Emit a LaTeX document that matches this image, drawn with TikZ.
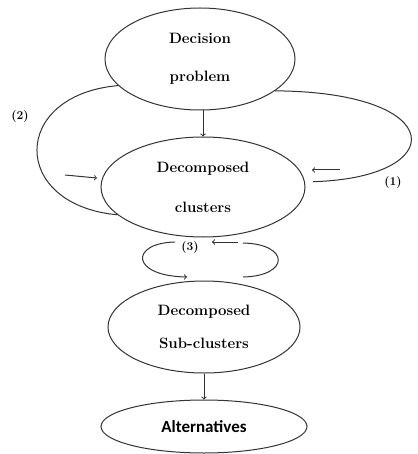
\documentclass[tikz,border=0pt]{standalone}
\usepackage{fontspec}
\newfontfamily\altfont{Carlito}
\usetikzlibrary{shapes.geometric}
\begin{document}
\begin{tikzpicture}[x=1pt,y=-1pt,
  line width=1pt,
  ink/.style={draw=black!80},
  stage/.style={ellipse,ink,inner sep=0pt,align=center,text=black,
    font=\normalfont\bfseries\fontsize{15}{18}\selectfont},
  tag/.style={text=black,font=\normalfont\bfseries\fontsize{12}{14}\selectfont},
  flow/.style={ink,->,>=to}]
\useasboundingbox (0,0) rectangle (417,454);

% stages of the decomposition
\node[stage,minimum width=190pt,minimum height=102pt] (e1) at (200,59)
  {Decision\\[20pt]problem};
\node[stage,minimum width=204pt,minimum height=100pt] (e2) at (203,187)
  {Decomposed\\[22pt]clusters};
\node[stage,minimum width=192pt,minimum height=92pt] (e3) at (204,327)
  {Decomposed\\[15pt]Sub-clusters};
\node[stage,minimum width=206pt,minimum height=53pt,
  font=\altfont\bfseries\fontsize{17}{20}\selectfont] (e4) at (204,426.5)
  {Alternatives};

% main top-down flow
\draw[flow] (e2.north |- e1.south) -- (e2.north);
\draw[flow] (e3.south) -- (e4.north);

% feedback loop (2)
\draw[ink] (e1.198) .. controls (10,95) and (10,205) .. (e2.198);
\coordinate (a2s) at (65,175);
\coordinate (a2e) at (97,178);
\draw[flow] (a2s) -- (a2e);
\node[tag] (l2) at (20,117) {(2)};

% feedback loop (1)
\draw[ink] (e1.337) .. controls (450,92) and (450,178) .. ([xshift=8pt]e2.3);
\coordinate (a1s) at (340,170);
\coordinate (a1e) at (312,170);
\draw[flow] (a1s) -- (a1e);
\node[tag] (l1) at (393,183) {(1)};

% inner loop (3) between clusters and sub-clusters
\coordinate (c3a) at (175,242);
\coordinate (c3b) at (187,277);
\coordinate (c3c) at (243,243);
\coordinate (c3d) at (243,277);
\coordinate (a3s) at (238,242);
\coordinate (a3e) at (212,242);
\draw[flow] (c3a) .. controls (130,243) and (130,276) .. (c3b);
\draw[ink] (c3c) .. controls (290,244) and (290,276) .. (c3d);
\draw[flow] (a3s) -- (a3e);
\node[tag] (l3) at (190,248) {(3)};
\end{tikzpicture}
\end{document}
